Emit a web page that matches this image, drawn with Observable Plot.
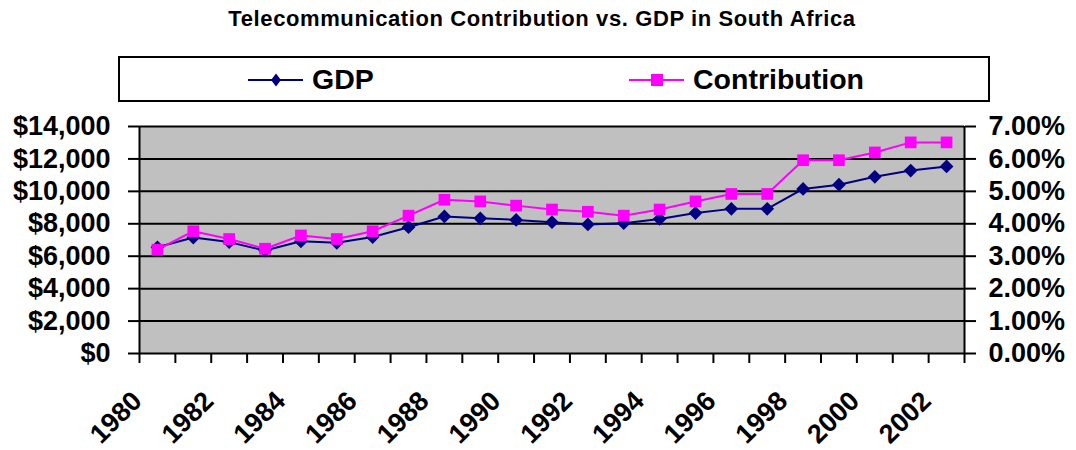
<!DOCTYPE html>
<html><head><meta charset="utf-8">
<script src="https://cdn.jsdelivr.net/npm/d3@7"></script>
<script src="https://cdn.jsdelivr.net/npm/@observablehq/plot@0.6"></script>
<style>
body{margin:0;background:#fff;font-family:"Liberation Sans",Arial,sans-serif;}
#wrap{position:relative;width:1076px;height:450px;overflow:hidden;}
#title{position:absolute;left:0;top:6px;width:1084px;text-align:center;font-weight:bold;font-size:22px;letter-spacing:0.6px;line-height:26px;color:#000;}
#legend{position:absolute;left:118px;top:56px;width:872px;height:46px;border:2px solid #000;box-sizing:border-box;}
.item{position:absolute;top:0;height:42px;}
.item svg{position:absolute;top:10px;}
.item span{position:absolute;top:5px;font-weight:bold;font-size:28.5px;line-height:32px;white-space:nowrap;}
#chart{position:absolute;left:0;top:110px;}
</style></head>
<body>
<div id="wrap">
  <div id="title"></div>
  <div id="legend"></div>
  <div id="chart"></div>
</div>
<script>
const years = [1980,1981,1982,1983,1984,1985,1986,1987,1988,1989,1990,1991,1992,1993,1994,1995,1996,1997,1998,1999,2000,2001,2002];
const gdp = [6550,7150,6870,6350,6920,6830,7180,7790,8450,8340,8240,8100,7960,8040,8300,8660,8920,8920,10150,10410,10900,11280,11540];
const contribution = [3.20,3.77,3.53,3.23,3.64,3.53,3.77,4.25,4.74,4.69,4.56,4.44,4.37,4.25,4.44,4.69,4.92,4.92,5.96,5.96,6.20,6.51,6.51]; // percent
const leftTicks = [0,2000,4000,6000,8000,10000,12000,14000];
const leftTickLabels = ["$0","$2,000","$4,000","$6,000","$8,000","$10,000","$12,000","$14,000"];
const rightTickLabels = ["0.00%","1.00%","2.00%","3.00%","4.00%","5.00%","6.00%","7.00%"];
const yearLabels = [1980,1982,1984,1986,1988,1990,1992,1994,1996,1998,2000,2002];
const seriesNames = ["GDP","Contribution"];
const seriesColors = ["#000080","#ff00ff"];
const titleText = "Telecommunication Contribution vs. GDP in South Africa";

// contribution (%) shares the left scale: 7.00% <-> $14,000
const pctToY = p => p * (leftTicks[leftTicks.length-1] / 7);
const data = years.map((y,i)=>({year:y, gdp:gdp[i], contrib:pctToY(contribution[i])}));
const boundaries = years.map(y=>y-0.5).concat([years[years.length-1]+0.5]);

document.getElementById("title").textContent = titleText;

// legend
const legend = document.getElementById("legend");
const legendPos = [{sw:128, tx:192},{sw:509, tx:573}];
seriesNames.forEach((name,i)=>{
  const it = document.createElement("div");
  it.className = "item";
  it.style.left = legendPos[i].sw + "px";
  const c = seriesColors[i];
  const marker = i===0
    ? `<polygon points="28,5.5 33,12 28,18.5 23,12" fill="${c}"/>`
    : `<rect x="22" y="6" width="12" height="12" fill="${c}"/>`;
  it.innerHTML = `<svg width="60" height="24"><line x1="0" x2="55" y1="12" y2="12" stroke="${c}" stroke-width="2"/>${marker}</svg><span style="left:${legendPos[i].tx-legendPos[i].sw}px">${name}</span>`;
  legend.appendChild(it);
});

const chart = Plot.plot({
  width: 1076, height: 340,
  marginTop: 16, marginBottom: 97, marginLeft: 139, marginRight: 112,
  x: {type:"linear", domain:[boundaries[0], boundaries[boundaries.length-1]], axis:null},
  y: {domain:[leftTicks[0], leftTicks[leftTicks.length-1]], axis:null},
  style: {fontFamily:"'Liberation Sans', Arial, sans-serif", background:"transparent", color:"#000", overflow:"visible"},
  marks: [
    Plot.frame({fill:"#c0c0c0", stroke:null}),
    Plot.ruleY(leftTicks, {stroke:"#000", strokeWidth:2}),
    Plot.ruleX([boundaries[0], boundaries[boundaries.length-1]], {stroke:"#000", strokeWidth:2}),
    Plot.axisY({anchor:"left", ticks:leftTicks, tickFormat:d=>leftTickLabels[leftTicks.indexOf(d)], tickSize:11, tickPadding:18, strokeWidth:2, fontSize:27, fontWeight:"bold", label:null}),
    Plot.axisY({anchor:"right", ticks:leftTicks, tickFormat:d=>rightTickLabels[leftTicks.indexOf(d)], tickSize:11, tickPadding:13, strokeWidth:2, fontSize:27, fontWeight:"bold", label:null}),
    Plot.axisX({anchor:"bottom", ticks:boundaries, tickFormat:()=>"", tickSize:10, strokeWidth:2, label:null}),
    Plot.line(data, {x:"year", y:"gdp", stroke:seriesColors[0], strokeWidth:2}),
    Plot.dot(data, {x:"year", y:"gdp", symbol:"diamond2", r:6.2, fill:seriesColors[0], stroke:null}),
    Plot.line(data, {x:"year", y:"contrib", stroke:seriesColors[1], strokeWidth:2}),
    Plot.dot(data, {x:"year", y:"contrib", symbol:"square", r:6.6, fill:seriesColors[1], stroke:null}),
    Plot.text(yearLabels, {x:d=>d, text:d=>String(d), frameAnchor:"bottom", rotate:-45, textAnchor:"end", lineAnchor:"bottom", dx:-14, dy:49, fontSize:27, fontWeight:"bold", fill:"#000"})
  ]
});
document.getElementById("chart").appendChild(chart);
</script>
</body></html>
